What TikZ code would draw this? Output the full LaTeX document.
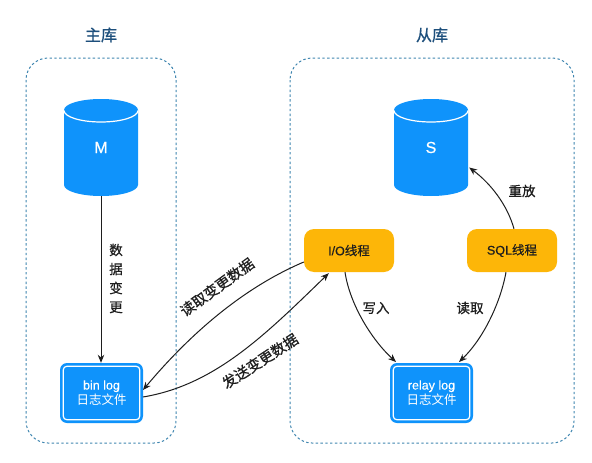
\documentclass[tikz,border=0pt]{standalone}
\usepackage{fontspec}
\setmainfont{Noto Sans CJK SC}
\newfontfamily\cjkheavy[FakeBold=0.7]{Noto Sans CJK SC}
\newfontfamily\latb[FakeBold=0.7]{Liberation Sans}
\newfontfamily\latr[FakeBold=0.2]{Liberation Sans}
\usetikzlibrary{arrows.meta,calc}
\definecolor{dbblue}{HTML}{0F93FB}
\definecolor{thread}{HTML}{FDB608}
\definecolor{panel}{HTML}{3F86B0}
\definecolor{titleblue}{HTML}{1D4F7C}
\definecolor{ink}{HTML}{1E1E1E}
\tikzset{
  panelbox/.style={draw=panel,line width=1pt,dash pattern=on 2.4pt off 2.4pt,rounded corners=22pt},
  titletext/.style={font=\fontsize{16}{18}\selectfont\cjkheavy,text=titleblue},
  dbhit/.style={minimum width=74pt,minimum height=97pt,inner sep=0pt,text=white,font=\fontsize{16}{18}\selectfont\latb},
  threadbox/.style={fill=thread,rounded corners=10pt,minimum width=90pt,minimum height=43pt,inner sep=0pt,text=ink,font=\fontsize{12.5}{14}\selectfont\cjkheavy},
  logbox/.style={fill=dbblue,rounded corners=7pt,minimum width=83pt,minimum height=60pt,inner sep=0pt,align=center,text=white,font=\fontsize{12.5}{16}\selectfont},
  logline/.style={draw=white,line width=1.2pt,rounded corners=3.5pt},
  flow/.style={draw=ink,line width=1pt,-{Stealth[length=8pt,width=6.5pt]}},
  lbl/.style={font=\fontsize{13.5}{15}\selectfont\cjkheavy,text=ink,inner sep=0pt},
  rotlbl/.style={lbl,font=\fontsize{14.5}{15}\selectfont\cjkheavy}
}
\newcommand{\dbshape}[1]{%
  \fill[dbblue] (#1-37,110) -- (#1-37,185) arc[x radius=37,y radius=11,start angle=180,end angle=0] -- (#1+37,110) arc[x radius=37,y radius=11,start angle=0,end angle=-180] -- cycle;
  \draw[white,line width=1.2pt] (#1-37,110.5) arc[x radius=37,y radius=11.5,start angle=180,end angle=0];
}
\begin{document}
\begin{tikzpicture}[x=1pt,y=-1pt]
\useasboundingbox (0,0) rectangle (592,463);
\fill[white] (0,0) rectangle (592,463);
\draw[panelbox] (26,58) rectangle (176,443);
\draw[panelbox] (290,58) rectangle (574,443);
\node[titletext] (tm) at (101,35) {主库};
\node[titletext] (ts) at (432,35) {从库};
\dbshape{101}
\dbshape{431}
\node[dbhit] (m) at (101,147.5) {M};
\node[dbhit] (s) at (431,147.5) {S};
\node[threadbox] (io) at (349,250.5) {{\latb I/O}线程};
\node[threadbox] (sql) at (512,250.5) {{\latb SQL}线程};
\node[logbox] (bin) at (101.5,393) {{\latr bin log}\\[-1pt]日志文件};
\node[logbox] (relay) at (431.5,393) {{\latr relay log}\\[-1pt]日志文件};
\draw[logline] ($(bin.north west)+(3.5,3.5)$) rectangle ($(bin.south east)+(-3.5,-3.5)$);
\draw[logline] ($(relay.north west)+(3.5,3.5)$) rectangle ($(relay.south east)+(-3.5,-3.5)$);
\coordinate (binin) at (143,390);
\coordinate (binout) at (143,397);
\coordinate (relayl) at (396,362);
\coordinate (relayr) at (459,362);
\draw[flow] (m.south) -- (m.south |- bin.north);
\draw[flow] (io.west |- 304,262) .. controls (238,290) and (185,340) .. (binin);
\draw[flow] (binout) .. controls (215,385) and (265,335) .. ($(io.south west)+(25,1)$);
\draw[flow] ($(sql.north)+(2,0)$) .. controls (507,204) and (490,183) .. ($(s.east)+(1,20)$);
\draw[flow] ($(io.south)+(-4,0)$) .. controls (350,305) and (372,340) .. (relayl);
\draw[flow] ($(sql.south)+(-6,0)$) .. controls (500,305) and (482,340) .. (relayr);
\node[lbl,align=center] (l1) at (116,278.5) {数\\[4pt]据\\[4pt]变\\[4pt]更};
\node[rotlbl,rotate=36] (l2) at (217,287) {读取变更数据};
\node[rotlbl,rotate=33] (l3) at (260,361) {发送变更数据};
\node[lbl] (l4) at (522,191) {重放};
\node[lbl] (l5) at (376,308) {写入};
\node[lbl] (l6) at (470,308) {读取};
\end{tikzpicture}
\end{document}
